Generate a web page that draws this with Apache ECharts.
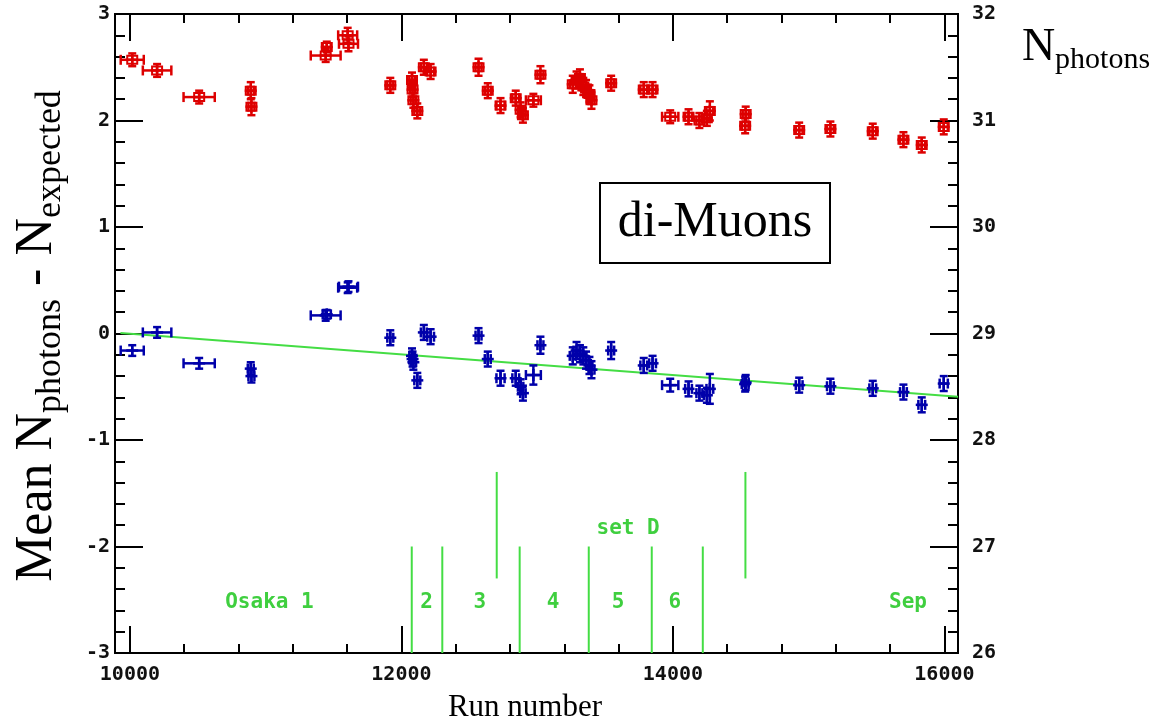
<!DOCTYPE html>
<html>
<head>
<meta charset="utf-8">
<script src="https://cdn.jsdelivr.net/npm/echarts@6/dist/echarts.min.js"></script>
<style>
  html, body { margin: 0; padding: 0; background: #ffffff; }
  #chart { width: 1163px; height: 723px; }
</style>
</head>
<body>
<div id="chart"></div>
<script>
// Run ranges (centre and half-width) shared by both measurements
const runs = [10017, 10200, 10510, 10890, 10895, 11442, 11450, 11604, 11610, 11918,
              12078, 12082, 12088, 12117, 12165, 12215, 12568, 12636, 12730, 12842,
              12878, 12895, 12972, 13024, 13262, 13290, 13315, 13340, 13360, 13385,
              13400, 13545, 13785, 13850, 13980, 14115, 14195, 14250, 14272, 14532,
              14536, 14930, 15160, 15472, 15698, 15833, 15995];
const runErr = [85, 105, 115, 22, 22, 110, 30, 70, 70, 22,
                20, 20, 20, 22, 22, 25, 22, 22, 30, 25,
                20, 20, 55, 22, 22, 22, 22, 22, 22, 22,
                22, 22, 25, 25, 60, 25, 22, 22, 25, 25,
                22, 25, 25, 25, 25, 25, 30];

// Mean number of photons (right axis)
const nPhotons = [31.57, 31.47, 31.22, 31.28, 31.13, 31.61, 31.69, 31.80, 31.72, 31.33,
                  31.38, 31.29, 31.19, 31.09, 31.50, 31.46, 31.50, 31.28, 31.14, 31.21,
                  31.10, 31.05, 31.19, 31.43, 31.34, 31.38, 31.40, 31.32, 31.30, 31.25,
                  31.19, 31.35, 31.29, 31.29, 31.035, 31.035, 31.00, 31.02, 31.09, 30.95,
                  31.06, 30.91, 30.92, 30.90, 30.82, 30.77, 30.94];
const nPhotonsErr = [0.06, 0.06, 0.06, 0.08, 0.08, 0.06, 0.05, 0.07, 0.07, 0.07,
                     0.07, 0.07, 0.07, 0.07, 0.07, 0.07, 0.08, 0.07, 0.07, 0.07,
                     0.07, 0.07, 0.06, 0.08, 0.08, 0.08, 0.08, 0.08, 0.08, 0.08,
                     0.08, 0.07, 0.07, 0.07, 0.06, 0.07, 0.07, 0.07, 0.09, 0.07,
                     0.07, 0.07, 0.07, 0.07, 0.07, 0.07, 0.07];

// Mean N_photons - N_expected (left axis)
const diff = [-0.16, 0.01, -0.28, -0.33, -0.40, 0.17, 0.18, 0.43, 0.44, -0.04,
              -0.21, -0.24, -0.27, -0.44, 0.01, -0.03, -0.02, -0.24, -0.42, -0.42,
              -0.50, -0.56, -0.39, -0.11, -0.21, -0.16, -0.19, -0.21, -0.25, -0.30,
              -0.34, -0.16, -0.30, -0.28, -0.485, -0.52, -0.56, -0.58, -0.52, -0.475,
              -0.46, -0.485, -0.495, -0.515, -0.55, -0.67, -0.47];
const diffErr = [0.05, 0.05, 0.05, 0.06, 0.06, 0.05, 0.04, 0.05, 0.05, 0.07,
                 0.07, 0.07, 0.07, 0.07, 0.07, 0.07, 0.07, 0.07, 0.07, 0.07,
                 0.07, 0.07, 0.09, 0.08, 0.08, 0.08, 0.08, 0.08, 0.08, 0.08,
                 0.08, 0.08, 0.07, 0.07, 0.06, 0.07, 0.07, 0.07, 0.14, 0.07,
                 0.07, 0.07, 0.07, 0.07, 0.07, 0.07, 0.07];

// Straight-line fit through the difference
const fitRuns = [9930, 16100];
const fitValues = [0.005, -0.595];

// Data-taking period boundaries
const periodRuns = [12076, 12301, 12702, 12871, 13380, 13844, 14220, 14534];
const periodTop = [-2, -2, -1.3, -2, -2, -2, -2, -1.3];
const periodBottom = [-3, -3, -2.3, -3, -3, -3, -3, -2.3];

// Period names
const periodLabels = ['Osaka 1', '2', '3', '4', '5', '6', 'Sep', 'set D'];
const labelRuns = [11028, 12185, 12578, 13117, 13596, 14014, 15732, 13670];
const labelValues = [-2.53, -2.53, -2.53, -2.53, -2.53, -2.53, -2.53, -1.83];

// Axis ticks
const X_MIN = 9890, X_MAX = 16100;
const xMajorTicks = [10000, 12000, 14000, 16000];
const xMinorTicks = [];
for (let v = 10400; v < 16000; v += 400) {
  if (v % 2000 !== 0) xMinorTicks.push(v);
}

const RED = '#dd0000';
const BLUE = '#0000aa';
const GREEN = '#44dd44';
const GREEN_TEXT = '#3fcf3f';
const TICK_FONT = 'DejaVu Sans Mono';
const SERIF = 'Liberation Serif';

// Error bars with end caps, a plus marker, and optionally an open box at the centre
function errorBars(color, withBox) {
  return function (params, api) {
    const run = api.value(0), val = api.value(1), ex = api.value(2), ey = api.value(3);
    const c = api.coord([run, val]);
    const xl = api.coord([run - ex, val])[0];
    const xr = api.coord([run + ex, val])[0];
    const yt = api.coord([run, val + ey])[1];
    const yb = api.coord([run, val - ey])[1];
    const s = { stroke: color, lineWidth: 2.5 };
    const hc = 5, vc = 4, armX = 6, armY = 6;
    const kids = [
      { type: 'line', shape: { x1: xl, y1: c[1], x2: xr, y2: c[1] }, style: s },
      { type: 'line', shape: { x1: xl, y1: c[1] - hc, x2: xl, y2: c[1] + hc }, style: s },
      { type: 'line', shape: { x1: xr, y1: c[1] - hc, x2: xr, y2: c[1] + hc }, style: s },
      { type: 'line', shape: { x1: c[0], y1: yt, x2: c[0], y2: yb }, style: s },
      { type: 'line', shape: { x1: c[0] - vc, y1: yt, x2: c[0] + vc, y2: yt }, style: s },
      { type: 'line', shape: { x1: c[0] - vc, y1: yb, x2: c[0] + vc, y2: yb }, style: s },
      { type: 'line', shape: { x1: c[0] - armX, y1: c[1], x2: c[0] + armX, y2: c[1] }, style: s },
      { type: 'line', shape: { x1: c[0], y1: c[1] - armY, x2: c[0], y2: c[1] + armY }, style: s }
    ];
    if (withBox) {
      kids.push({ type: 'rect', shape: { x: c[0] - 5, y: c[1] - 4, width: 10, height: 8 },
                  style: { stroke: color, lineWidth: 2, fill: 'none' } });
    }
    return { type: 'group', children: kids };
  };
}

function xAxisDef(position, ticks, length, withLabels) {
  return {
    type: 'value', position: position, min: X_MIN, max: X_MAX,
    axisLine: { show: true, onZero: false, lineStyle: { color: '#000', width: 2 } },
    axisTick: { show: true, inside: true, length: length, customValues: ticks,
                lineStyle: { color: '#000', width: 2 } },
    axisLabel: withLabels
      ? { show: true, customValues: ticks, margin: 12, color: '#111',
          fontFamily: TICK_FONT, fontSize: 20, fontWeight: 'bold', formatter: v => String(v) }
      : { show: false },
    splitLine: { show: false }
  };
}

function yAxisDef(position, min, max, margin) {
  return {
    type: 'value', position: position, min: min, max: max, interval: 1,
    axisLine: { show: true, onZero: false, lineStyle: { color: '#000', width: 2 } },
    axisTick: { show: true, inside: true, length: 28, lineStyle: { color: '#000', width: 2 } },
    minorTick: { show: true, splitNumber: 5, length: 10, lineStyle: { color: '#000', width: 2 } },
    axisLabel: { show: true, margin: margin, color: '#111', fontFamily: TICK_FONT,
                 fontSize: 20, fontWeight: 'bold' },
    splitLine: { show: false },
    minorSplitLine: { show: false }
  };
}

const chart = echarts.init(document.getElementById('chart'), null, { renderer: 'canvas' });

chart.setOption({
  animation: false,
  backgroundColor: '#ffffff',
  grid: { left: 115, top: 14, width: 843, height: 639, containLabel: false },
  xAxis: [
    xAxisDef('bottom', xMajorTicks, 27, true),
    xAxisDef('bottom', xMinorTicks, 9, false),
    xAxisDef('top', xMajorTicks, 27, false),
    xAxisDef('top', xMinorTicks, 9, false)
  ],
  yAxis: [
    yAxisDef('left', -3, 3, 5),
    yAxisDef('right', 26, 32, 14)
  ],
  series: [
    {
      name: 'fit', type: 'line', xAxisIndex: 0, yAxisIndex: 0,
      data: fitRuns.map((r, i) => [r, fitValues[i]]),
      showSymbol: false, lineStyle: { color: GREEN, width: 2 }, z: 2
    },
    {
      name: 'periods', type: 'custom', xAxisIndex: 0, yAxisIndex: 0,
      data: periodRuns.map((r, i) => [r, periodTop[i], periodBottom[i]]),
      encode: { x: 0, y: [1, 2] },
      renderItem: function (params, api) {
        const top = api.coord([api.value(0), api.value(1)]);
        const bot = api.coord([api.value(0), api.value(2)]);
        return { type: 'line', shape: { x1: top[0], y1: top[1], x2: bot[0], y2: bot[1] },
                 style: { stroke: GREEN, lineWidth: 2 } };
      },
      z: 2
    },
    {
      name: 'period names', type: 'custom', xAxisIndex: 0, yAxisIndex: 0,
      data: labelRuns.map((r, i) => [r, labelValues[i]]),
      encode: { x: 0, y: 1 },
      renderItem: function (params, api) {
        const p = api.coord([api.value(0), api.value(1)]);
        return { type: 'text', x: p[0], y: p[1],
                 style: { text: periodLabels[params.dataIndex], fill: GREEN_TEXT,
                          font: 'bold 21px "DejaVu Sans Mono"', align: 'center', verticalAlign: 'middle' } };
      },
      z: 3
    },
    {
      name: 'N photons', type: 'custom', xAxisIndex: 0, yAxisIndex: 1,
      data: runs.map((r, i) => [r, nPhotons[i], runErr[i], nPhotonsErr[i]]),
      encode: { x: 0, y: 1 },
      renderItem: errorBars(RED, true),
      z: 4
    },
    {
      name: 'N photons - N expected', type: 'custom', xAxisIndex: 0, yAxisIndex: 0,
      data: runs.map((r, i) => [r, diff[i], runErr[i], diffErr[i]]),
      encode: { x: 0, y: 1 },
      renderItem: errorBars(BLUE, false),
      z: 4
    }
  ],
  graphic: [
    {
      type: 'text', x: 37, y: 336, rotation: Math.PI / 2,
      style: {
        text: '{m|Mean N}{s|photons}{m| - N}{s|expected}',
        align: 'center', verticalAlign: 'middle',
        rich: {
          m: { fontFamily: SERIF, fontSize: 52, lineHeight: 52, fill: '#000' },
          s: { fontFamily: SERIF, fontSize: 36, lineHeight: 36, verticalAlign: 'top',
               padding: [22, 0, 0, 0], fill: '#000' }
        }
      }
    },
    {
      type: 'text', x: 525, y: 708,
      style: { text: 'Run number', fill: '#000', font: '31px "Liberation Serif"',
               align: 'center', verticalAlign: 'middle' }
    },
    {
      type: 'text', x: 1086, y: 48,
      style: {
        text: '{m|N}{s|photons}',
        align: 'center', verticalAlign: 'middle',
        rich: {
          m: { fontFamily: SERIF, fontSize: 46, lineHeight: 46, fill: '#000' },
          s: { fontFamily: SERIF, fontSize: 30, lineHeight: 30, verticalAlign: 'top',
               padding: [20, 0, 0, 0], fill: '#000' }
        }
      }
    },
    {
      type: 'rect', shape: { x: 600, y: 183, width: 230, height: 80 },
      style: { fill: '#ffffff', stroke: '#000', lineWidth: 2 }, z: 10
    },
    {
      type: 'text', x: 715, y: 223, z: 11,
      style: { text: 'di-Muons', fill: '#000', font: '50px "Liberation Serif"',
               align: 'center', verticalAlign: 'middle' }
    }
  ]
});
</script>
</body>
</html>
